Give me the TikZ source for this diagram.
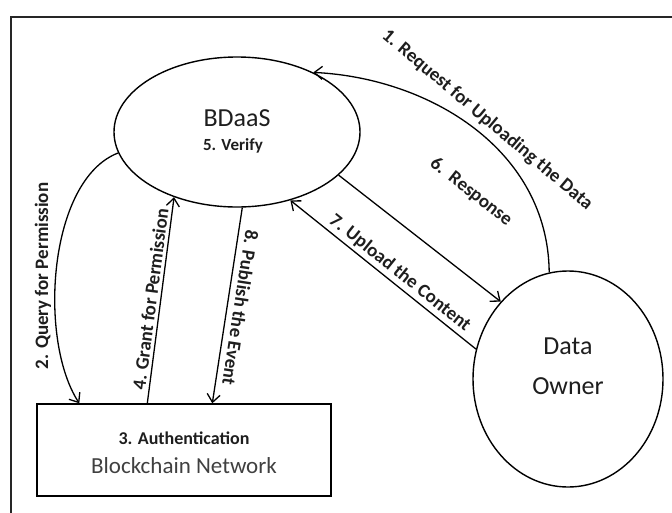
\documentclass[tikz,border=0pt]{standalone}
\usepackage{fontspec}
\setmainfont{Carlito}
\usetikzlibrary{arrows.meta,shapes.geometric}
\definecolor{ink}{HTML}{1E1E1E}
\begin{document}
\begin{tikzpicture}[x=1pt,y=-1pt,
  outline/.style={draw=black, line width=1.4pt},
  actor/.style={outline, ellipse, inner sep=0pt},
  flow/.style={line width=1.3pt, -{Straight Barb[length=8pt,width=13pt]}},
  backflow/.style={line width=1.3pt, {Straight Barb[length=8pt,width=13pt]}-},
  lab/.style={font=\bfseries\fontsize{19}{22}\selectfont, text=ink, inner sep=3pt},
  big/.style={font=\fontsize{26}{30}\selectfont, text=ink, anchor=base, inner sep=0pt},
]
\useasboundingbox (0,0) rectangle (672,512);

% outer frame (left and top edges)
\draw[line width=2pt, black!85] (11,514) -- (11,17) -- (674,17);

% main parties
\node[actor, minimum width=246pt, minimum height=150pt] (bd) at (237,132) {};
\node[actor, minimum width=190pt, minimum height=216pt] (do) at (568,379) {};
\node[outline, rectangle, minimum width=294pt, minimum height=92pt, inner sep=0pt] (blk) at (184,450) {};

% texts inside the parties
\node[big] (bdname) at (237,126.5) {BDaaS};
\node[font=\bfseries\fontsize{17}{20}\selectfont, text=ink, anchor=base, inner sep=0pt] (verify) at (233,150.5) {5. Verify};
\node[big] (dataw) at (568,354) {Data};
\node[big] (ownerw) at (568,394) {Owner};
\node[font=\bfseries\fontsize{18}{21}\selectfont, text=ink, anchor=base, inner sep=0pt] (auth) at (184,444) {3. Authentication};
\node[font=\fontsize{23}{27}\selectfont, text=black!75, anchor=base, inner sep=0pt] (bcnet) at (184,473) {Blockchain Network};

% 1. request from the data owner (curved)
\draw[backflow] (bd.38) .. controls (430,78) and (548,150) .. (do.100);
\node[lab, rotate=-40, anchor=base, inner sep=0pt] (req1) at (484,124) {1. Request for Uploading the Data};

% 2. query for permission (curved)
\draw[flow] (bd.190) .. controls (48,180) and (38,340) .. ([xshift=43pt]blk.north west);
\node[lab, rotate=90] (q2) at (43,276) {2. Query for Permission};

% 4. grant for permission
\draw[flow] ([xshift=111pt]blk.north west) -- (bd.226)
  node[lab, midway, sloped, above] (g4) {4. Grant for Permission};

% 8. publish the event
\draw[flow] (bd.274) -- ([xshift=176pt]blk.north west)
  node[lab, midway, sloped, above, allow upside down, inner sep=6pt] (p8) {8. Publish the Event};

% 6. response to the data owner
\draw[flow] (bd.337) -- (do.131);
\node[lab, rotate=-38.2] (r6) at (471,192) {6.\ \ Response};

% 7. upload the content
\draw[backflow] (bd.308) -- (do.162)
  node[lab, pos=0.55, sloped, above] (u7) {7. Upload the Content};
\end{tikzpicture}
\end{document}
